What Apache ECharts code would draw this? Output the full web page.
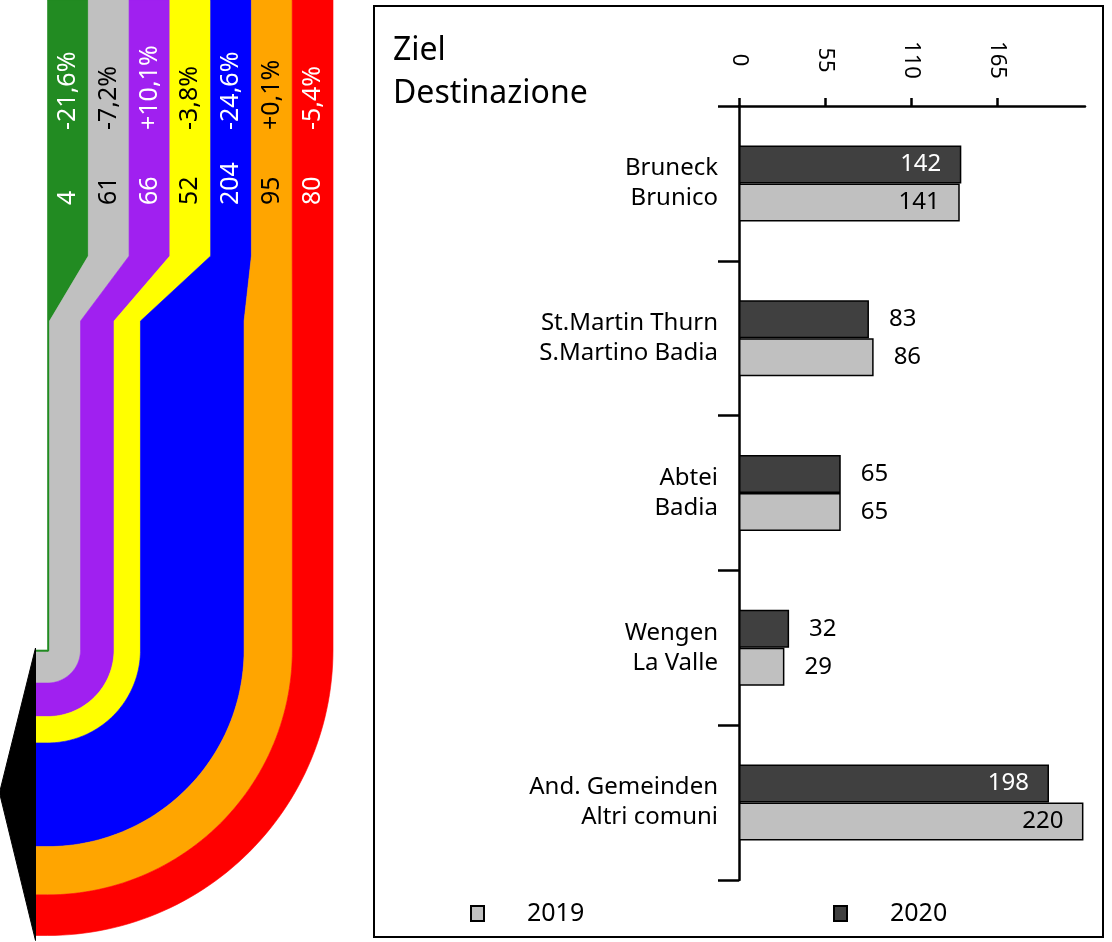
<!DOCTYPE html>
<html>
<head>
<meta charset="utf-8">
<script src="https://cdn.jsdelivr.net/npm/echarts@6/dist/echarts.min.js"></script>
<style>
html, body { margin: 0; padding: 0; background: #fff; }
#main { width: 1112px; height: 942px; }
</style>
</head>
<body>
<div id="main"></div>
<script>
'use strict';

// Herkunft / provenienza (flow, left)
const flowValues = [4, 61, 66, 52, 204, 95, 80];
const flowChanges = [-21.6, -7.2, 10.1, -3.8, -24.6, 0.1, -5.4];
const flowColors = ['#228b22', '#c0c0c0', '#a020f0', '#ffff00', '#0000ff', '#ffa500', '#ff0000'];
const flowTextColors = ['#fff', '#000', '#fff', '#000', '#fff', '#000', '#fff'];

// Ziel / destinazione (bars, right)
const destinations = [
    'Bruneck\nBrunico',
    'St.Martin Thurn\nS.Martino Badia',
    'Abtei\nBadia',
    'Wengen\nLa Valle',
    'And. Gemeinden\nAltri comuni'
];
const values2019 = [141, 86, 65, 29, 220];
const values2020 = [142, 83, 65, 32, 198];
const axisTicks = [0, 55, 110, 165];

const FONT = '"Noto Sans", sans-serif';

// flow layout, y in pixels
const Y_SPLIT = 256;
const Y_JOIN = 321;
const Y_BEND = 650;
const Y_PCT = 130;
const Y_NUM = 205;

const flowTotal = flowValues.reduce((a, b) => a + b, 0);
const flowStart = [];
let acc = 0;
flowValues.forEach(v => { flowStart.push(acc); acc += v; });

function fmtChange(c) {
    return (c > 0 ? '+' : '') + c.toFixed(1).replace('.', ',') + '%';
}

function renderFlow(params, api) {
    const i = params.dataIndex;
    const v = api.value(1);
    const c0 = api.value(2);
    const n = flowValues.length;
    const colW = flowTotal / n;
    const k = api.size([1, 0])[0];
    const p = (x, y) => api.coord([x, y]);
    const [cx, cy] = p(0, Y_BEND);
    const r0 = c0 * k, r1 = (c0 + v) * k;
    const steps = 60;

    const pts = [p(i * colW, 0), p((i + 1) * colW, 0), p((i + 1) * colW, Y_SPLIT), p(c0 + v, Y_JOIN), p(c0 + v, Y_BEND)];
    for (let s = 1; s <= steps; s++) {
        const a = s / steps * Math.PI / 2;
        pts.push([cx + r1 * Math.cos(a), cy + r1 * Math.sin(a)]);
    }
    pts.push([cx - 12, cy + r1], [cx - 12, cy + r0]);
    for (let s = steps; s >= 0; s--) {
        const a = s / steps * Math.PI / 2;
        pts.push([cx + r0 * Math.cos(a), cy + r0 * Math.sin(a)]);
    }
    pts.push(p(c0, Y_JOIN), p(i * colW, Y_SPLIT));

    const colX = p((i + 0.5) * colW, 0)[0];
    const children = [
        {
            type: 'polygon',
            shape: { points: pts },
            style: { fill: flowColors[i], stroke: flowColors[i], lineWidth: 0.6 }
        },
        {
            type: 'text', x: colX, y: p(0, Y_PCT)[1], rotation: Math.PI / 2,
            style: { text: fmtChange(flowChanges[i]), fill: flowTextColors[i], font: '25px ' + FONT, align: 'left', verticalAlign: 'middle' }
        },
        {
            type: 'text', x: colX, y: p(0, Y_NUM)[1], rotation: Math.PI / 2,
            style: { text: String(v), fill: flowTextColors[i], font: '25px ' + FONT, align: 'left', verticalAlign: 'middle' }
        }
    ];
    if (i === n - 1) {
        const R = flowTotal * k;
        children.push({
            type: 'polygon',
            shape: { points: [[cx - 12, cy - 2], [cx - 48, cy + R / 2], [cx - 12, cy + R + 5]] },
            style: { fill: '#000', stroke: '#000', lineWidth: 1 }
        });
    }
    return { type: 'group', children: children };
}

function barData(values, inside, outside) {
    return values.map(v => ({
        value: v,
        label: v > 100
            ? { position: 'insideRight', color: inside }
            : { position: 'right', color: outside }
    }));
}

const chart = echarts.init(document.getElementById('main'));

const legendBase = {
    top: 901, padding: 0, icon: 'rect', itemWidth: 13, itemHeight: 15,
    textStyle: { fontSize: 25, color: '#000', padding: [0, 0, 0, 38], fontFamily: FONT }
};

const option = {
    animation: false,
    textStyle: { fontFamily: FONT },
    title: {
        text: 'Ziel\nDestinazione',
        left: 388,
        top: 24,
        textStyle: { fontSize: 32, fontWeight: 'normal', color: '#000', lineHeight: 43, fontFamily: FONT }
    },
    legend: [
        Object.assign({ data: ['2019'], left: 470 }, legendBase),
        Object.assign({ data: ['2020'], left: 833 }, legendBase)
    ],
    graphic: [
        {
            type: 'rect',
            shape: { x: 374, y: 6, width: 729, height: 931 },
            style: { fill: 'none', stroke: '#000', lineWidth: 2 },
            silent: true
        }
    ],
    grid: [
        { left: 739, top: 106, width: 346, height: 774 },
        { left: 47.5, top: 0, width: 285.5, height: 942 }
    ],
    xAxis: [
        {
            gridIndex: 0, type: 'value', position: 'top', min: 0, max: 221,
            splitLine: { show: false },
            axisLine: { show: true, lineStyle: { color: '#000', width: 2.5 } },
            axisTick: { show: true, length: 8, customValues: axisTicks, lineStyle: { color: '#000', width: 2.5 } },
            axisLabel: {
                rotate: 90, align: 'center', verticalAlign: 'middle', margin: 46,
                fontSize: 22, color: '#000', customValues: axisTicks, fontFamily: FONT
            }
        },
        { gridIndex: 1, type: 'value', min: 0, max: flowTotal, show: false }
    ],
    yAxis: [
        {
            gridIndex: 0, type: 'category', inverse: true, data: destinations,
            axisLine: { show: true, lineStyle: { color: '#000', width: 2.5 } },
            axisTick: { show: true, length: 21, lineStyle: { color: '#000', width: 2.5 } },
            axisLabel: { margin: 21, fontSize: 24, lineHeight: 30, color: '#000', fontFamily: FONT }
        },
        { gridIndex: 1, type: 'value', min: 0, max: 942, inverse: true, show: false }
    ],
    series: [
        {
            name: '2020', type: 'bar', xAxisIndex: 0, yAxisIndex: 0,
            data: barData(values2020, '#fff', '#000'),
            barWidth: 38, barGap: '0%',
            itemStyle: { color: '#404040', borderColor: '#000', borderWidth: 1.5 },
            label: { show: true, distance: 20, fontSize: 24, fontFamily: FONT }
        },
        {
            name: '2019', type: 'bar', xAxisIndex: 0, yAxisIndex: 0,
            data: barData(values2019, '#000', '#000'),
            barWidth: 38, barGap: '0%',
            itemStyle: { color: '#c0c0c0', borderColor: '#000', borderWidth: 1.5 },
            label: { show: true, distance: 20, fontSize: 24, fontFamily: FONT }
        },
        {
            type: 'custom', xAxisIndex: 1, yAxisIndex: 1,
            renderItem: renderFlow,
            data: flowValues.map((v, i) => [i, v, flowStart[i]]),
            silent: true
        }
    ]
};

chart.setOption(option);
window.onresize = function () { chart.resize(); };
</script>
</body>
</html>
